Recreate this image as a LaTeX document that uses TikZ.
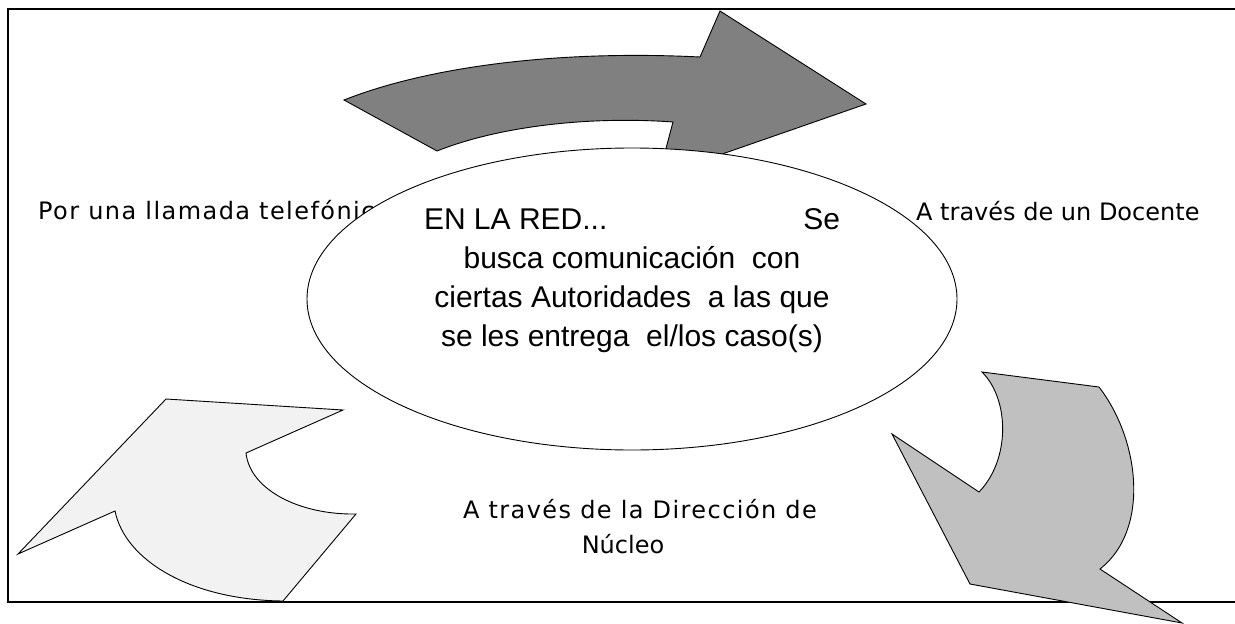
\documentclass[tikz,border=0pt]{standalone}
\usepackage{fontspec}
\setmainfont{Liberation Sans}
\newfontfamily\sidefont{DejaVu Sans}
\newfontfamily\sidefontwide[LetterSpace=6]{DejaVu Sans}
\usetikzlibrary{shapes.geometric}
\definecolor{topgray}{HTML}{808080}
\definecolor{leftgray}{HTML}{F2F2F2}
\definecolor{rightgray}{HTML}{C0C0C0}
\begin{document}
\begin{tikzpicture}[x=1pt,y=-1pt,
  arrowshape/.style={draw=black, line width=0.9pt, line join=miter},
  sidetext/.style={font=\sidefont\fontsize{24}{35}\selectfont, inner sep=0pt},
  sidewide/.style={font=\sidefontwide\fontsize{24}{35}\selectfont, inner sep=0pt},
  centertext/.style={font=\fontsize{30}{39}\selectfont, inner sep=0pt, align=center}]
\useasboundingbox (0,0) rectangle (1235,624);
% frame (open on the right)
\draw[line width=1.6pt] (1240,9) -- (8,9) -- (8,602) -- (1240,602);
% side labels
\node[sidewide, anchor=base west] (phone) at (38,219) {Por una llamada telefónica};
\node[sidetext, anchor=base west] (teacher) at (916,220) {A través de un Docente};
\node[sidewide, anchor=base] (dir1) at (640,518) {A través de la Dirección de};
\node[sidetext, anchor=base] (dir2) at (623,553) {Núcleo};
% top dark arrow
\draw[arrowshape, fill=topgray] (344,100) .. controls (430,66) and (560,50) .. (700,57)
  -- (720,11) -- (866,104) -- (705,160) -- (664,156) -- (673,122)
  .. controls (590,116) and (500,126) .. (437,151) -- cycle;
% bottom-left light arrow
\draw[arrowshape, fill=leftgray] (166,399) -- (343,410) -- (246,453)
  .. controls (250,490) and (300,515) .. (356,514) -- (283,601)
  .. controls (190,600) and (125,560) .. (115,511) -- (18,554) -- cycle;
% bottom-right mid-grey arrow
\draw[arrowshape, fill=rightgray] (982,372) -- (1099,387)
  .. controls (1140,440) and (1150,530) .. (1100,569) -- (1182,623)
  -- (970,584) -- (892,434) -- (979,492)
  .. controls (1010,460) and (1010,400) .. (982,372) -- cycle;
% central ellipse
\node[draw, ellipse, fill=white, line width=0.9pt, minimum width=650pt,
      minimum height=302pt, inner sep=0pt] (ell) at (632,299) {};
\node[centertext, anchor=north] (txt) at (632,208)
  {\hbox to 416pt{EN LA RED...\hfill Se}\\
   busca comunicación\ \ con\\
   ciertas Autoridades\ \ a las que\\
   se les entrega\ \ el/los caso(s)};
\end{tikzpicture}
\end{document}
